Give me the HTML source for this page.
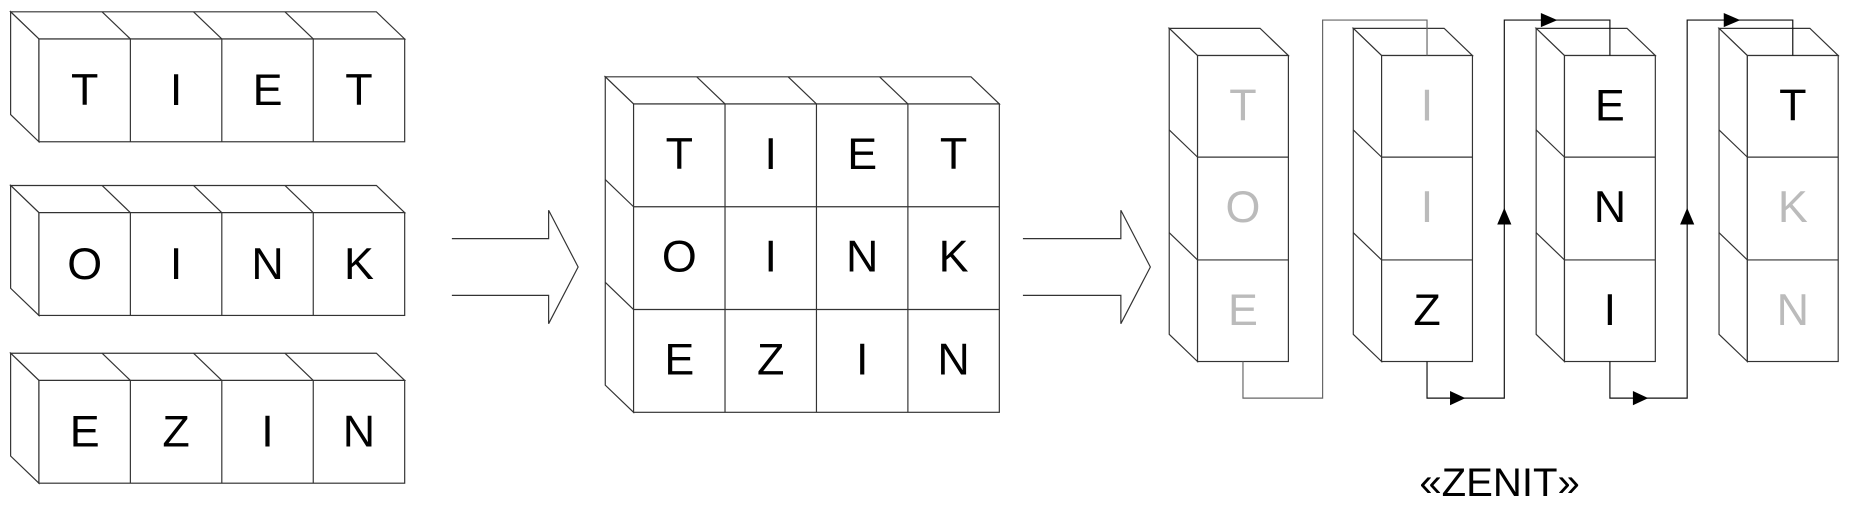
<!DOCTYPE html>
<html><head><meta charset="utf-8"><style>html,body{margin:0;padding:0;background:#fff}svg{display:block}</style></head><body>
<svg width="1850" height="508" viewBox="0 0 1568 430" preserveAspectRatio="none" xmlns="http://www.w3.org/2000/svg">
<defs>
<g id="row" fill="none" stroke="#333" stroke-width="1">
<polygon points="33,0 9,-23 319,-23 343,0" fill="#fff"/>
<polygon points="9,-23 9,64 33,87 33,0" fill="#fff"/>
<rect x="33" y="0" width="310" height="87" fill="#fff"/>
<line x1="110.5" y1="0" x2="110.5" y2="87"/><line x1="188" y1="0" x2="188" y2="87"/><line x1="265.5" y1="0" x2="265.5" y2="87"/>
<line x1="110.5" y1="0" x2="86.5" y2="-23"/><line x1="188" y1="0" x2="164" y2="-23"/><line x1="265.5" y1="0" x2="241.5" y2="-23"/>
</g>
<g id="col" fill="#fff" stroke="#333" stroke-width="1">
<polygon points="0,0 -24,-23 53,-23 77,0"/>
<polygon points="0,0 -24,-23 -24,236 0,259"/>
<rect x="0" y="0" width="77" height="259"/>
<line x1="0" y1="86" x2="77" y2="86"/><line x1="0" y1="173" x2="77" y2="173"/>
<line x1="0" y1="86" x2="-24" y2="63"/><line x1="0" y1="173" x2="-24" y2="150"/>
</g>
</defs>
<g font-family="Liberation Sans, Arial, sans-serif" font-size="38" text-anchor="middle">
<use href="#row" transform="translate(0,33)"/>
<text x="71.75" y="89">T</text><text x="149.25" y="89">I</text><text x="226.75" y="89">E</text><text x="304.25" y="89">T</text>
<use href="#row" transform="translate(0,180)"/>
<text x="71.75" y="236">O</text><text x="149.25" y="236">I</text><text x="226.75" y="236">N</text><text x="304.25" y="236">K</text>
<use href="#row" transform="translate(0,322)"/>
<text x="71.75" y="378">E</text><text x="149.25" y="378">Z</text><text x="226.75" y="378">I</text><text x="304.25" y="378">N</text>

<g fill="none" stroke="#333" stroke-width="1">
<polyline points="383,202 465,202 465,178 490,226 465,274 465,250 383,250"/>
<polyline points="867,202 950,202 950,178 975,226 950,274 950,250 867,250"/>
<polygon points="537,88 513,65 823,65 847,88" fill="#fff"/>
<polygon points="513,65 513,326 537,349 537,88" fill="#fff"/>
<rect x="537" y="88" width="310" height="261" fill="#fff"/>
<line x1="614.5" y1="88" x2="614.5" y2="349"/><line x1="692" y1="88" x2="692" y2="349"/><line x1="769.5" y1="88" x2="769.5" y2="349"/>
<line x1="614.5" y1="88" x2="590.5" y2="65"/><line x1="692" y1="88" x2="668" y2="65"/><line x1="769.5" y1="88" x2="745.5" y2="65"/>
<line x1="537" y1="175" x2="847" y2="175"/><line x1="537" y1="262" x2="847" y2="262"/>
<line x1="537" y1="175" x2="513" y2="152"/><line x1="537" y1="262" x2="513" y2="239"/>
</g>
<text x="575.75" y="143">T</text><text x="653.25" y="143">I</text><text x="730.75" y="143">E</text><text x="808.25" y="143">T</text>
<text x="575.75" y="230">O</text><text x="653.25" y="230">I</text><text x="730.75" y="230">N</text><text x="808.25" y="230">K</text>
<text x="575.75" y="317">E</text><text x="653.25" y="317">Z</text><text x="730.75" y="317">I</text><text x="808.25" y="317">N</text>

<use href="#col" transform="translate(1015,47)"/>
<use href="#col" transform="translate(1171,47)"/>
<use href="#col" transform="translate(1326,47)"/>
<use href="#col" transform="translate(1481,47)"/>

<g fill="none" stroke-width="1">
<polyline stroke="#666" points="1053.5,306 1053.5,337 1121,337 1121,17 1209.5,17 1209.5,47"/>
<polyline stroke="#111" points="1209.5,306 1209.5,337 1275,337 1275,17 1364.5,17 1364.5,47"/>
<polyline stroke="#111" points="1364.5,306 1364.5,337 1430,337 1430,17 1519.5,17 1519.5,47"/>
</g>
<g fill="#000">
<polygon points="1229,331 1229,343 1242,337"/>
<polygon points="1384,331 1384,343 1397,337"/>
<polygon points="1269,190 1281,190 1275,176"/>
<polygon points="1424,190 1436,190 1430,176"/>
<polygon points="1306,11 1306,23 1320,17"/>
<polygon points="1461,11 1461,23 1475,17"/>
</g>

<text x="1053.5" y="102" fill="#bbb">T</text><text x="1053.5" y="188" fill="#bbb">O</text><text x="1053.5" y="275" fill="#bbb">E</text>
<text x="1209.5" y="102" fill="#bbb">I</text><text x="1209.5" y="188" fill="#bbb">I</text><text x="1209.5" y="275">Z</text>
<text x="1364.5" y="102">E</text><text x="1364.5" y="188">N</text><text x="1364.5" y="275">I</text>
<text x="1519.5" y="102">T</text><text x="1519.5" y="188" fill="#bbb">K</text><text x="1519.5" y="275" fill="#bbb">N</text>

<text x="1271" y="420" font-size="34">«ZENIT»</text>
</g>
</svg>
</body></html>
